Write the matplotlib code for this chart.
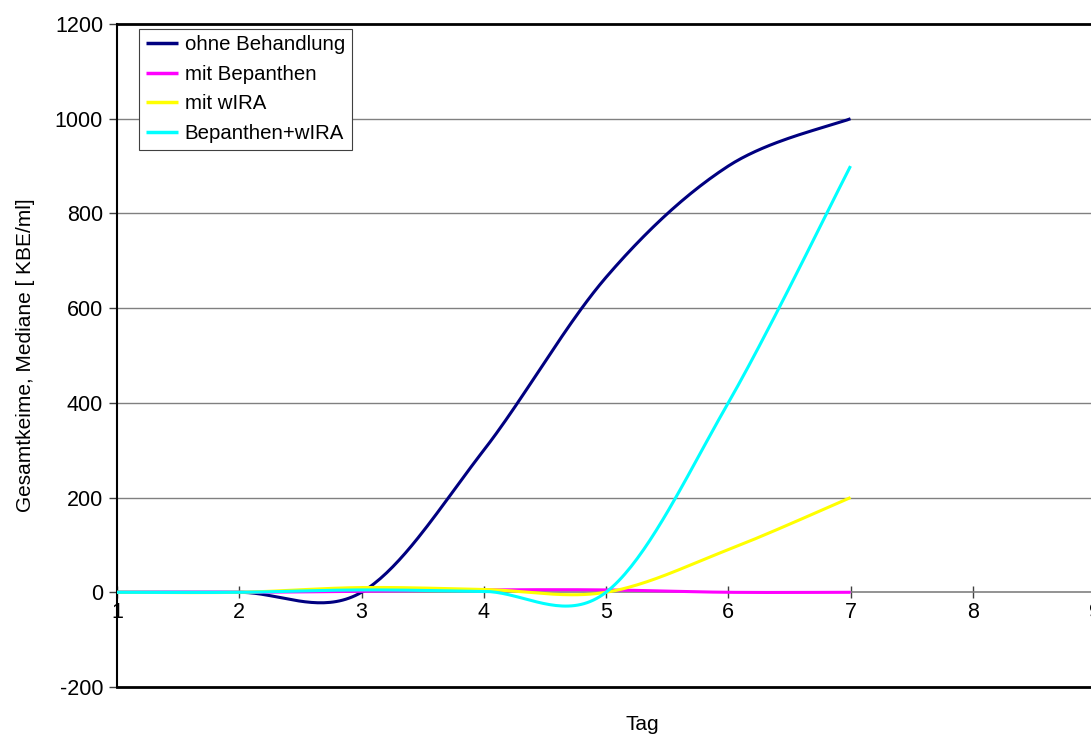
import numpy as np
import matplotlib
matplotlib.use("Agg")
import matplotlib.pyplot as plt

plt.rcParams['font.family'] = ['Liberation Sans', 'DejaVu Sans']
plt.rcParams['axes.unicode_minus'] = False

days = [1, 2, 3, 4, 5, 6, 7]
ohne_behandlung = [0, 0, 0, 300, 665, 900, 1000]
mit_bepanthen = [0, 0, 2, 5, 5, 0, 0]
mit_wira = [0, 0, 10, 6, 0, 90, 200]
bepanthen_wira = [0, 0, 5, 2, 0, 400, 900]

series = [
    ("ohne Behandlung", ohne_behandlung, "#000080"),
    ("mit Bepanthen", mit_bepanthen, "#FF00FF"),
    ("mit wIRA", mit_wira, "#FFFF00"),
    ("Bepanthen+wIRA", bepanthen_wira, "#00FFFF"),
]


def smooth(xs, ys, steps=40):
    """Cubic Bezier smoothing through every point (spreadsheet-style)."""
    P = np.column_stack([xs, ys]).astype(float)
    n = len(P)
    out = [P[0]]
    t = np.linspace(0, 1, steps)[1:, None]
    for i in range(n - 1):
        p0 = P[i - 1] if i > 0 else P[i]
        p1, p2 = P[i], P[i + 1]
        p3 = P[i + 2] if i + 2 < n else P[i + 1]
        c1 = p1 + (p2 - p0) / 6.0
        c2 = p2 - (p3 - p1) / 6.0
        seg = ((1 - t) ** 3) * p1 + 3 * ((1 - t) ** 2) * t * c1 \
            + 3 * (1 - t) * t ** 2 * c2 + t ** 3 * p2
        out.extend(seg)
    out = np.array(out)
    return out[:, 0], out[:, 1]


fig = plt.figure(figsize=(10.91, 7.38), dpi=100)
ax = fig.add_axes([117 / 1091, 1 - 687 / 738, (1095 - 117) / 1091, (687 - 24) / 738])

ax.set_xlim(1, 9)
ax.set_ylim(-200, 1200)

# horizontal gridlines
for yv in [200, 400, 600, 800, 1000]:
    ax.axhline(yv, color="#808080", lw=1.0, zorder=1)

for name, vals, col in series:
    sx, sy = smooth(days, vals)
    ax.plot(sx, sy, color=col, lw=2.2, label=name, zorder=3, solid_capstyle='butt')

# category axis crosses at zero
ax.spines['bottom'].set_position(('data', 0))
ax.spines['bottom'].set_color('#808080')
ax.spines['bottom'].set_linewidth(1.2)
ax.spines['bottom'].set_zorder(2)
ax.axhline(-200, color='black', lw=2.0, zorder=4, clip_on=False)
ax.spines['left'].set_linewidth(1.5)
ax.spines['top'].set_linewidth(2.0)
ax.spines['right'].set_visible(False)

ax.set_xticks(range(1, 10))
ax.set_yticks(range(-200, 1201, 200))
ax.tick_params(axis='x', direction='inout', length=8, width=1, color='#404040',
               labelsize=15.5, pad=3)
ax.tick_params(axis='y', direction='out', length=6, width=1, color='#404040',
               labelsize=15.5, pad=4)

ax.set_xlabel("Tag", fontsize=15)
ax.xaxis.set_label_coords(0.537, -0.042)
ax.set_ylabel("Gesamtkeime, Mediane [ KBE/ml]", fontsize=15, labelpad=14)

leg = ax.legend(loc='upper left', bbox_to_anchor=(0.0225, 0.993), fontsize=14.7,
                frameon=True, fancybox=False, edgecolor='#404040', framealpha=1,
                handlelength=1.57, handletextpad=0.35, borderpad=0.32,
                labelspacing=0.52, borderaxespad=0)
leg.get_frame().set_linewidth(0.8)
for line in leg.get_lines():
    line.set_linewidth(2.5)

fig.savefig("out.png", dpi=100)
